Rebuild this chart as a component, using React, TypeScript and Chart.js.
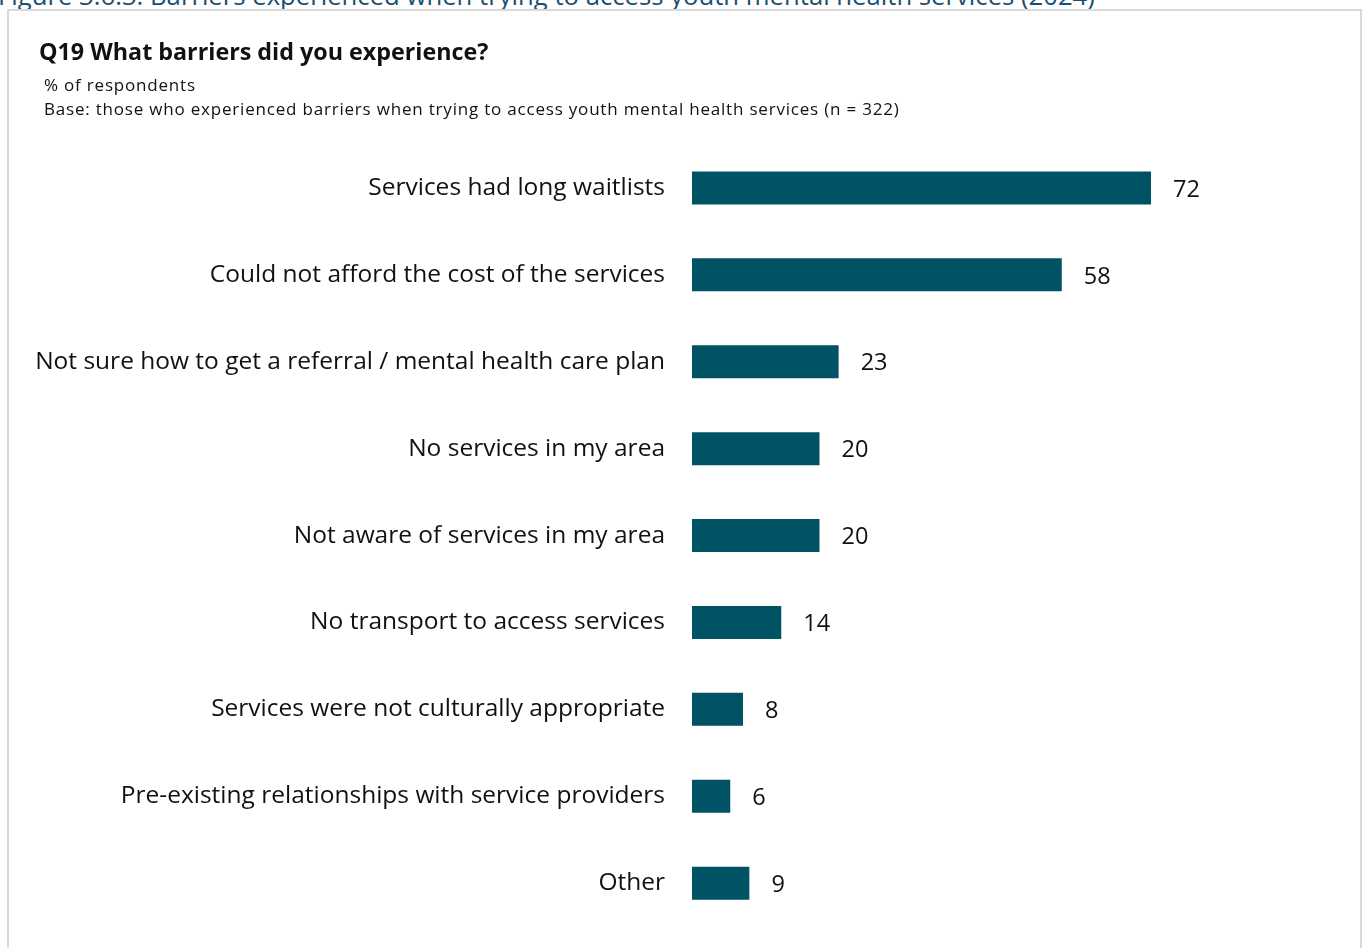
import React, { useEffect, useRef } from "react";
import { Chart, registerables } from "chart.js";

Chart.register(...registerables);

const categories = [
  "Services had long waitlists",
  "Could not afford the cost of the services",
  "Not sure how to get a referral / mental health care plan",
  "No services in my area",
  "Not aware of services in my area",
  "No transport to access services",
  "Services were not culturally appropriate",
  "Pre-existing relationships with service providers",
  "Other",
];
const values = [72, 58, 23, 20, 20, 14, 8, 6, 9];

const captionText =
  "Figure 3.6.3: Barriers experienced when trying to access youth mental health services (2024)";
const titleText = "Q19 What barriers did you experience?";
const subtitleText = "% of respondents";
const baseText =
  "Base: those who experienced barriers when trying to access youth mental health services (n = 322)";

const FONT = "'Open Sans', sans-serif";
const BAR_COLOR = "#005265";

export default function App() {
  const ref = useRef<HTMLCanvasElement | null>(null);

  useEffect(() => {
    if (!ref.current) return;
    const valueLabels = {
      id: "valueLabels",
      afterDatasetsDraw(chart: any) {
        const ctx = chart.ctx;
        const meta = chart.getDatasetMeta(0);
        ctx.save();
        ctx.font = `23.5px ${FONT}`;
        ctx.fillStyle = "#111";
        ctx.textAlign = "left";
        ctx.textBaseline = "middle";
        meta.data.forEach((bar: any, i: number) => {
          ctx.fillText(String(values[i]), bar.x + 22, bar.y + 2);
        });
        ctx.restore();
      },
    };
    const chart = new Chart(ref.current, {
      type: "bar",
      data: {
        labels: categories,
        datasets: [
          {
            data: values,
            backgroundColor: BAR_COLOR,
            categoryPercentage: 1,
            barPercentage: 0.38,
          },
        ],
      },
      options: {
        indexAxis: "y",
        animation: false,
        responsive: false,
        maintainAspectRatio: false,
        layout: { padding: { top: 144.5, bottom: 21.4, right: 34.5, left: 0 } },
        plugins: {
          legend: { display: false },
          tooltip: { enabled: false },
        },
        scales: {
          x: { display: false, min: 0, max: 100 },
          y: {
            grid: { display: false, drawTicks: false },
            border: { display: false },
            ticks: {
              padding: 27,
              color: "#111",
              font: { family: FONT, size: 24.5 },
            },
            afterFit(scale: any) {
              scale.width = 692;
              scale.paddingTop = 0;
              scale.paddingBottom = 0;
            },
          },
        },
      },
      plugins: [valueLabels],
    });
    return () => chart.destroy();
  }, []);

  return (
    <div
      style={{
        position: "fixed",
        left: 0,
        top: 0,
        width: 1364,
        height: 948,
        overflow: "hidden",
        background: "#fff",
        fontFamily: FONT,
      }}
    >
      <div
        style={{
          position: "absolute",
          left: -2,
          top: -22,
          fontSize: 25.7,
          color: "#1b4f72",
          whiteSpace: "nowrap",
        }}
      >
        {captionText}
      </div>
      <div
        style={{
          position: "absolute",
          left: 7,
          top: 9,
          width: 1355,
          height: 960,
          border: "2px solid #d9d9d9",
          boxSizing: "border-box",
        }}
      />
      <canvas
        ref={ref}
        width={1364}
        height={948}
        style={{ position: "absolute", left: 0, top: 0 }}
      />
      <div
        style={{
          position: "absolute",
          left: 39,
          top: 35,
          fontSize: 23.3,
          fontWeight: 700,
          color: "#111",
          whiteSpace: "nowrap",
        }}
      >
        {titleText}
      </div>
      <div
        style={{
          position: "absolute",
          left: 44,
          top: 73,
          fontSize: 17,
          letterSpacing: "0.8px",
          color: "#111",
          lineHeight: "23.5px",
          whiteSpace: "nowrap",
        }}
      >
        <div>{subtitleText}</div>
        <div>{baseText}</div>
      </div>
    </div>
  );
}
